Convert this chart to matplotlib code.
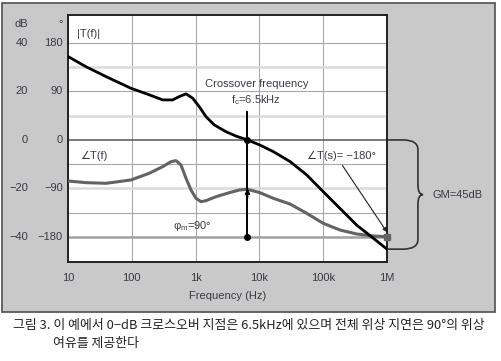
import matplotlib.pyplot as plt
import matplotlib.transforms as mtransforms
from matplotlib.patches import Rectangle, PathPatch
from matplotlib.path import Path

plt.rcParams['font.family'] = ['Liberation Sans', 'DejaVu Sans']

# |T(f)| in dB
freq_mag = [10, 19.1, 39.5, 97, 188, 305, 437, 556, 708, 901, 1143, 1455, 1963,
            2994, 4295, 6500, 10200, 16500, 30200, 55100, 100000, 183000, 335000,
            610000, 1e6]
mag_db = [34.4, 30.2, 26.1, 21.3, 18.6, 16.5, 16.5, 17.9, 19.0, 17.2, 13.7, 9.6, 6.2,
          3.4, 1.6, 0.0, -2.1, -4.8, -8.9, -14.4, -21.3, -28.2, -35.1,
          -40.5, -45.0]

# angle T(f) in degrees
freq_ph = [10, 19.1, 39.5, 97, 188, 305, 411, 493, 590, 708, 847, 1014, 1216, 1455,
           2089, 3375, 4842, 6500, 10200, 16500, 30200, 55100, 100000, 183000,
           335000, 610000, 1e6]
phase_deg = [-76.1, -79.2, -80.4, -74.2, -61.8, -49.5, -40.3, -38.4, -46.4, -71.1,
             -92.8, -108.2, -114.5, -112.6, -105.2, -97.8, -92.8, -91.5, -97.8,
             -108.2, -118.8, -136.0, -154.6, -167.0, -174.4, -178.1, -179.4]

db_ticks = [40, 20, 0, -20, -40]
deg_ticks = [180, 90, 0, -90, -180]
x_ticks = [10, 100, 1e3, 1e4, 1e5, 1e6]
x_labels = ['10', '100', '1k', '10k', '100k', '1M']

f_cross = 6500
phase_margin = 90
gain_margin = 45

DEG2DB = 20 / 90
TXT = '#3a3a44'

fig = plt.figure(figsize=(5.02, 3.61), dpi=100)
fig.patch.set_facecolor('white')
fig.patches.append(Rectangle((2 / 502, 1 - 312 / 361), 493 / 502, 309 / 361,
                             transform=fig.transFigure, facecolor='#c9c9c9',
                             edgecolor='#5a5a5a', lw=1.3, zorder=-5))

ax = fig.add_axes([68 / 502, 1 - 262 / 361, 319 / 502, 247 / 361])
ax.set_zorder(2)
ax.set_facecolor('white')
ax.set_xscale('log')
ax.set_xlim(10, 1e6)
ax.set_ylim(-50.3, 51.5)

# grid
for x in x_ticks[1:-1]:
    ax.axvline(x, color='#a8a8a8', lw=0.8, zorder=1)
for y in [40, 20, -10, -30]:
    ax.axhline(y, color='#a8a8a8', lw=0.8, zorder=1)
for y in [30, 10, -20]:
    ax.axhline(y, color='#dadada', lw=1.8, zorder=1)
ax.axhline(-40, color='#a0a0a0', lw=1.8, zorder=1)
ax.axhline(0, color='#555555', lw=1.1, zorder=1)

for s in ax.spines.values():
    s.set_color('#222222')
    s.set_linewidth(1.4)

ax.plot(freq_mag, mag_db, color='black', lw=2.0, zorder=4, solid_joinstyle='round')
ax.plot(freq_ph, [p * DEG2DB for p in phase_deg], color='#636363', lw=2.2, zorder=3,
        solid_joinstyle='round')

ax.set_xticks(x_ticks)
ax.set_xticklabels(x_labels, fontsize=8, color=TXT)
ax.minorticks_off()
ax.tick_params(axis='x', length=0, pad=8)
ax.set_yticks([])
ax.set_xlabel('Frequency (Hz)', fontsize=8, color=TXT, labelpad=6)

# dual y labels
trans = mtransforms.blended_transform_factory(ax.transAxes, ax.transData)
for d, g in zip(db_ticks, deg_ticks):
    ax.text(-0.125, d, f'{d}'.replace('-', '\u2212'), transform=trans, ha='right',
            va='center', fontsize=8, color=TXT)
    ax.text(-0.016, d, f'{g}'.replace('-', '\u2212'), transform=trans, ha='right',
            va='center', fontsize=8, color=TXT)
ax.text(-0.125, 47.8, 'dB', transform=trans, ha='right', va='center', fontsize=8, color=TXT)
ax.text(-0.018, 47.8, '°', transform=trans, ha='right', va='center', fontsize=8, color=TXT)

# curve labels
ax.text(14, 43.7, '|T(f)|', fontsize=8, color=TXT, va='center')
ax.text(15.4, -6.6, '\u2220T(f)', fontsize=8, color=TXT, va='center')
ax.text(9000, 23.1, 'Crossover frequency', fontsize=8, color=TXT, ha='center', va='center')
ax.text(9000, 16.5, 'f$_\\mathregular{c}$=6.5kHz', fontsize=8, color=TXT, ha='center', va='center')
ax.text(190000, -6.6, '\u2220T(s)= \u2212180°', fontsize=8, color=TXT, ha='center', va='center')
ax.text(900, -35.5, 'φ$_\\mathregular{m}$=90°', fontsize=8, color=TXT, ha='center', va='center')

# crossover / phase margin marker
pm_base = -180 * DEG2DB
pm_top = (-180 + phase_margin) * DEG2DB
ax.plot([f_cross, f_cross], [11.5, pm_base], color='black', lw=1.4, zorder=5)
ax.plot([f_cross, f_cross], [0, pm_base], 'o', color='black', ms=4, zorder=6)
ax.annotate('', xy=(f_cross, pm_top), xytext=(f_cross, pm_top - 4),
            arrowprops=dict(arrowstyle='-|>', color='black', lw=1.2,
                            mutation_scale=7, shrinkA=0, shrinkB=0), zorder=6)

# -180 point at 1 MHz
ax.plot([freq_ph[-1]], [phase_deg[-1] * DEG2DB], 's', color='#666666', ms=5,
        zorder=6, clip_on=False)
ax.annotate('', xy=(1e6, -38.0), xytext=(200000, -10.5),
            arrowprops=dict(arrowstyle='-|>', color='#222222', lw=0.8,
                            mutation_scale=6, shrinkA=0, shrinkB=0))

# gain margin brace
x0, x1, x2, x3 = 1.0, 1.05, 1.097, 1.113
top, bot = 0, -gain_margin
mid = bot / 2
verts = [(x0, top), (x1, top), (x2, top), (x2, top - 4), (x2, mid + 4), (x2, mid),
         (x3, mid), (x2, mid), (x2, mid - 4), (x2, bot + 4), (x2, bot), (x1, bot),
         (x0, bot)]
codes = [Path.MOVETO, Path.LINETO, Path.CURVE3, Path.CURVE3, Path.LINETO,
         Path.CURVE3, Path.CURVE3, Path.CURVE3, Path.CURVE3, Path.LINETO,
         Path.CURVE3, Path.CURVE3, Path.LINETO]
ax.add_patch(PathPatch(Path(verts, codes), transform=trans, fill=False,
                       edgecolor='#333333', lw=1.2, clip_on=False, zorder=2))
ax.text(1.142, mid, f'GM={gain_margin}dB', transform=trans, fontsize=8,
        color=TXT, va='center')

# caption
cap_font = ['Noto Sans CJK KR', 'DejaVu Sans']
fig.text(13 / 502, 1 - 326 / 361,
         '그림 3. 이 예에서 0\u2212dB 크로스오버 지점은 6.5kHz에 있으며 전체 위상 지연은 90°의 위상',
         family=cap_font, fontsize=9.3, color='#222222', va='center')
fig.text(53 / 502, 1 - 343 / 361, '여유를 제공한다',
         family=cap_font, fontsize=9.3, color='#222222', va='center')

fig.savefig('out.png', dpi=100)
